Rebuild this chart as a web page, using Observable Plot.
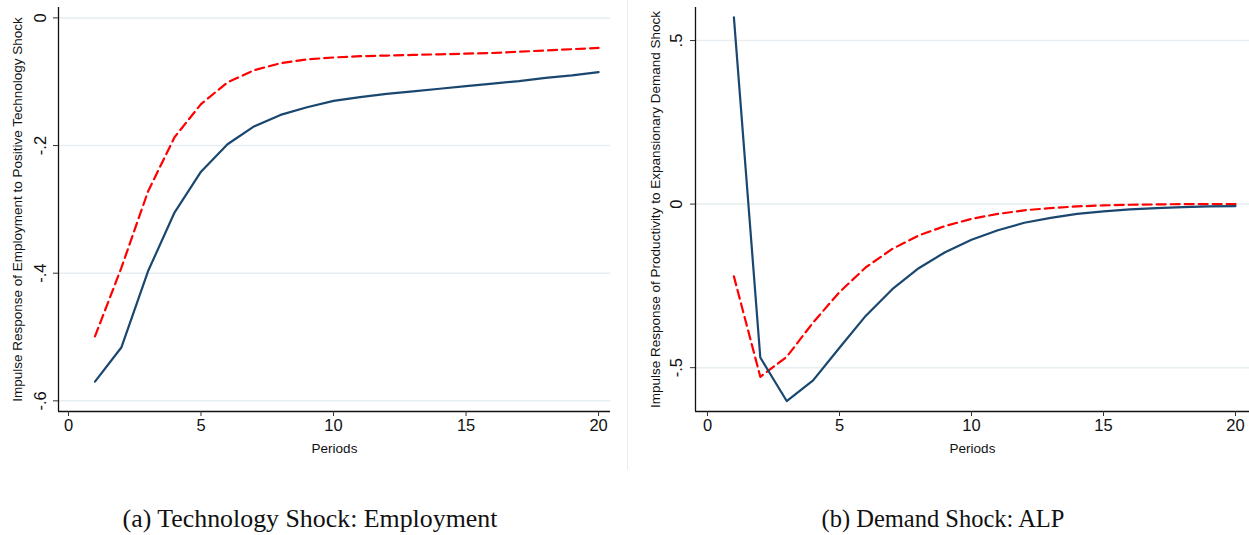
<!DOCTYPE html>
<html>
<head>
<meta charset="utf-8">
<script src="https://cdn.jsdelivr.net/npm/d3@7"></script>
<script src="https://cdn.jsdelivr.net/npm/@observablehq/plot@0.6"></script>
<style>
  html, body { margin: 0; padding: 0; background: #fff; }
  #root { position: relative; width: 1249px; height: 535px; overflow: hidden; background: #fff; }
  .panel { position: absolute; top: 0; }
  .sep { position: absolute; left: 627px; top: 0; width: 0; height: 470px; border-left: 1px solid #ececec; }
  .cap { position: absolute; top: 505px; white-space: nowrap; font-family: "Liberation Serif", "DejaVu Serif", serif; font-size: 22px; color: #111; line-height: 28px; }
</style>
</head>
<body>
<div id="root">
  <div class="sep"></div>
  <div class="panel" id="p1" style="left:0px"></div>
  <div class="panel" id="p2" style="left:620px"></div>
  <div class="cap" id="capA" data-cx="310" data-w="375">(a) Technology Shock: Employment</div>
  <div class="cap" id="capB" data-cx="943" data-w="243">(b) Demand Shock: ALP</div>
</div>
<script>
// ---------- data ----------
const periods = [1,2,3,4,5,6,7,8,9,10,11,12,13,14,15,16,17,18,19,20];

// Panel (a): employment response to technology shock
const techEmpSolid  = [-0.570,-0.516,-0.397,-0.305,-0.241,-0.198,-0.170,-0.152,-0.140,-0.130,
                       -0.124,-0.119,-0.115,-0.111,-0.107,-0.103,-0.099,-0.094,-0.090,-0.085];
const techEmpDashed = [-0.499,-0.391,-0.272,-0.187,-0.135,-0.101,-0.082,-0.071,-0.065,-0.062,
                       -0.060,-0.059,-0.058,-0.057,-0.056,-0.055,-0.053,-0.051,-0.049,-0.047];

// Panel (b): productivity response to demand shock
const demAlpSolid  = [0.571,-0.469,-0.602,-0.539,-0.439,-0.341,-0.260,-0.196,-0.147,-0.109,
                      -0.080,-0.057,-0.042,-0.030,-0.022,-0.016,-0.012,-0.009,-0.007,-0.006];
const demAlpDashed = [-0.221,-0.528,-0.467,-0.362,-0.269,-0.193,-0.137,-0.096,-0.067,-0.045,
                      -0.030,-0.019,-0.012,-0.007,-0.004,-0.002,-0.001,0.000,0.000,0.000];

const xTicks = [0, 5, 10, 15, 20];
const yTicksA = [0, -0.2, -0.4, -0.6];
const yTicksB = [0.5, 0, -0.5];

const yTitleA = "Impulse Response of Employment to Positive Technology Shock";
const yTitleB = "Impulse Response of Productivity to Expansionary Demand Shock";
const xTitle = "Periods";

// ---------- styling ----------
const BLUE = "#1a476f";
const RED = "#ff0000";
const GRID = "#e6eef1";
const FONT = "'Liberation Sans', Arial, sans-serif";

const fmt = d => d === 0 ? "0" : d3.format(".1f")(d).replace("0.", ".").replace("−", "-");

function panel({solid, dashed, yTicks, yTitle, xDomain, yDomain, width, marginLeft, marginRight, labelDx, titleDx}) {
  const rows = periods.map((p, i) => ({p, s: solid[i], d: dashed[i]}));
  return Plot.plot({
    width, height: 470,
    marginLeft, marginRight, marginTop: 7, marginBottom: 59,
    style: {fontFamily: FONT, fontSize: "16px", color: "#111", background: "transparent", overflow: "visible"},
    x: {domain: xDomain},
    y: {domain: yDomain},
    marks: [
      Plot.gridY(yTicks, {stroke: GRID, strokeOpacity: 1, strokeWidth: 1.5}),
      Plot.ruleX([xDomain[0]], {stroke: "#111", strokeWidth: 1.3}),
      Plot.ruleY([yDomain[0]], {stroke: "#111", strokeWidth: 1.3}),
      Plot.axisY(yTicks, {tickSize: 5, tickFormat: () => "", label: null, stroke: "#333"}),
      Plot.text(yTicks, {y: d => d, text: fmt, frameAnchor: "left", rotate: -90, dx: labelDx,
                         textAnchor: "middle", lineAnchor: "middle", fontSize: 16.5, fill: "#111"}),
      Plot.axisX(xTicks, {tickSize: 5, tickPadding: 3, tickFormat: d => String(d), label: null, stroke: "#333", fontSize: 16.5, fill: "#111"}),
      Plot.text([yTitle], {frameAnchor: "left", rotate: -90, dx: titleDx, textAnchor: "middle", lineAnchor: "middle", fontSize: 13.5, fill: "#111"}),
      Plot.text([xTitle], {frameAnchor: "bottom", dy: 37, textAnchor: "middle", lineAnchor: "middle", fontSize: 13.5, fill: "#111"}),
      Plot.line(rows, {x: "p", y: "d", stroke: RED, strokeWidth: 2.2, strokeDasharray: "9,5"}),
      Plot.line(rows, {x: "p", y: "s", stroke: BLUE, strokeWidth: 2.2})
    ]
  });
}

document.getElementById("p1").append(panel({
  solid: techEmpSolid, dashed: techEmpDashed, yTicks: yTicksA, yTitle: yTitleA,
  xDomain: [-0.377, 20.45], yDomain: [-0.6167, 0.0163],
  width: 620, marginLeft: 58, marginRight: 10, labelDx: -18, titleDx: -41
}));

document.getElementById("p2").append(panel({
  solid: demAlpSolid, dashed: demAlpDashed, yTicks: yTicksB, yTitle: yTitleB,
  xDomain: [-0.4545, 20.53], yDomain: [-0.634, 0.601],
  width: 629, marginLeft: 75, marginRight: 0, labelDx: -19, titleDx: -40
}));

// fit captions to their measured widths & centres
for (const id of ["capA", "capB"]) {
  const el = document.getElementById(id);
  const target = +el.dataset.w, cx = +el.dataset.cx;
  let w = el.getBoundingClientRect().width;
  const fs = 22 * target / w;
  el.style.fontSize = fs + "px";
  w = el.getBoundingClientRect().width;
  el.style.left = (cx - w / 2) + "px";
}
</script>
</body>
</html>
